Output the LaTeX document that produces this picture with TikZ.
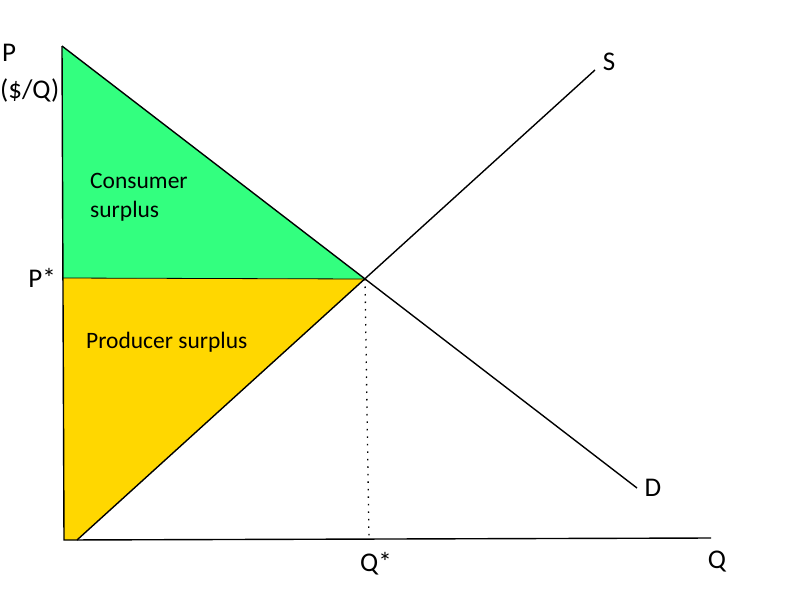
\documentclass[tikz,border=0pt]{standalone}
\usepackage{fontspec}
\setmainfont{Carlito}
\usetikzlibrary{positioning}
\definecolor{surplusgreen}{RGB}{51, 255, 127}
\definecolor{surplusgold}{RGB}{255, 215, 0}

\begin{document}
\begin{tikzpicture}[
  x=1pt, y=-1pt,
  line/.style={draw=black, line width=1.4pt},
  label/.style={font=\fontsize{27}{31}\selectfont, inner sep=0pt},
  area/.style={font=\fontsize{23.5}{29}\selectfont, align=left, inner sep=0pt, anchor=west}
]
  \useasboundingbox (0,0) rectangle (800,600);

  \coordinate (top) at (62,46);
  \coordinate (origin) at (64,540);
  \coordinate (qend) at (711,538);
  \coordinate (sstart) at (77,540);
  \coordinate (send) at (595,70);
  \coordinate (dend) at (637,488);
  \coordinate (eq) at (365,279);
  \coordinate (pstar) at (63,278);
  \coordinate (qstar) at (369,539);

  % surplus areas
  \fill[surplusgreen] (top) -- (eq) -- (pstar) -- cycle;
  \fill[surplusgold] (pstar) -- (eq) -- (sstart) -- (origin) -- cycle;

  % axes and curves
  \path[line] (top) -- (origin) -- (qend);
  \path[line] (top) -- (dend);
  \path[line] (sstart) -- (send);
  \draw[black, line width=0.8pt] (pstar) -- (eq);
  \draw[black, line width=1.3pt, dash pattern=on 1.5pt off 6pt] (eq) -- (qstar);

  \node[label, anchor=west] (plabel) at (2,53) {P};
  \node[label, anchor=west] (punit) at (0,90) {(\$/Q)};
  \node[label] (pstarlabel) at (42,278) {P*};
  \node[label] (slabel) at (609,62) {S};
  \node[label] (dlabel) at (653,488) {D};
  \node[label] (qstarlabel) at (376,564) {Q*};
  \node[label] (qlabel) at (717,562) {Q};

  \node[area] (consumer) at (90,197) {Consumer\\surplus};
  \node[area] (producer) at (86,342) {Producer surplus};
\end{tikzpicture}
\end{document}
